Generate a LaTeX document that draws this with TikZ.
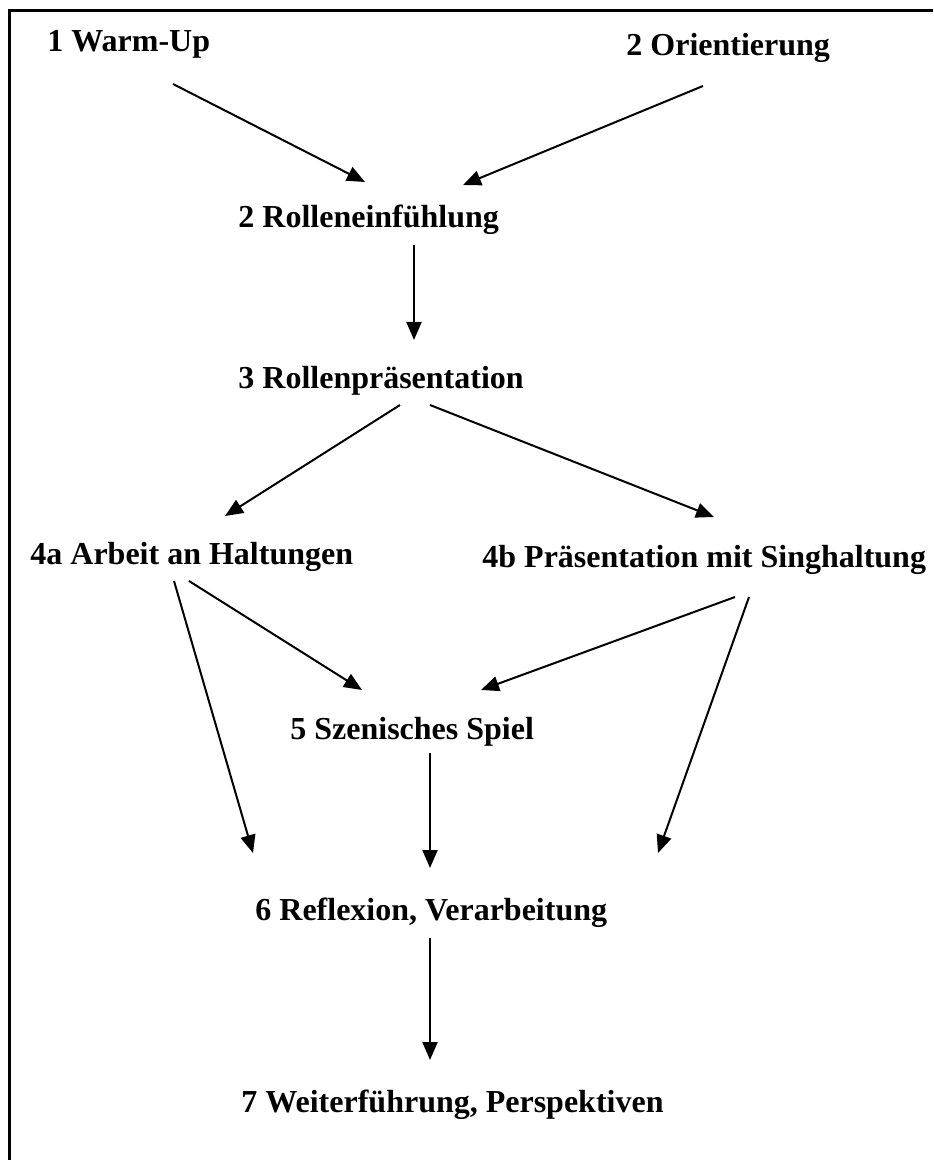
\documentclass[tikz,border=0pt]{standalone}
\usepackage{fontspec}
\setmainfont{Liberation Serif}
\usetikzlibrary{arrows.meta}
\begin{document}
\begin{tikzpicture}[x=0.5pt,y=-0.5pt,
  lbl/.style={anchor=base west,inner sep=0pt,font=\fontsize{16}{19}\selectfont\bfseries},
  conn/.style={line width=1pt,-{Triangle[length=9pt,width=7.5pt]}},
  frameline/.style={line width=1.5pt}]
\useasboundingbox (0,0) rectangle (933,1160);
\draw[frameline] (9,1160) -- (9,11) -- (933,11);
% labels
\node[lbl] (t1) at (47,52) {1 Warm-Up};
\node[lbl] (t2) at (626,56) {2 Orientierung};
\node[lbl] (t3) at (238,228) {2 Rolleneinfühlung};
\node[lbl] (t4) at (238,388) {3 Rollenpräsentation};
\node[lbl] (t5) at (30,564) {4a Arbeit an Haltungen};
\node[lbl] (t6) at (482,567) {4b Präsentation mit Singhaltung};
\node[lbl] (t7) at (290,739) {5 Szenisches Spiel};
\node[lbl] (t8) at (255,920) {6 Reflexion, Verarbeitung};
\node[lbl] (t9) at (241,1112) {7 Weiterführung, Perspektiven};
% connector end points
\coordinate (a1s) at (173,84);  \coordinate (a1e) at (365,182);
\coordinate (a2s) at (703,86);  \coordinate (a2e) at (463,185);
\coordinate (a3s) at (414,245); \coordinate (a3e) at (414,340);
\coordinate (a4s) at (400,405); \coordinate (a4e) at (225,516);
\coordinate (a5s) at (430,405); \coordinate (a5e) at (714,517);
\coordinate (a6s) at (174,581); \coordinate (a6e) at (253,853);
\coordinate (a7s) at (189,581); \coordinate (a7e) at (362,690);
\coordinate (a8s) at (735,597); \coordinate (a8e) at (481,690);
\coordinate (a9s) at (749,597); \coordinate (a9e) at (658,853);
\coordinate (a10s) at (430,753); \coordinate (a10e) at (430,868);
\coordinate (a11s) at (430,938); \coordinate (a11e) at (430,1060);
\draw[conn] (a1s) -- (a1e);
\draw[conn] (a2s) -- (a2e);
\draw[conn] (a3s) -- (a3e);
\draw[conn] (a4s) -- (a4e);
\draw[conn] (a5s) -- (a5e);
\draw[conn] (a6s) -- (a6e);
\draw[conn] (a7s) -- (a7e);
\draw[conn] (a8s) -- (a8e);
\draw[conn] (a9s) -- (a9e);
\draw[conn] (a10s) -- (a10e);
\draw[conn] (a11s) -- (a11e);
\end{tikzpicture}
\end{document}
